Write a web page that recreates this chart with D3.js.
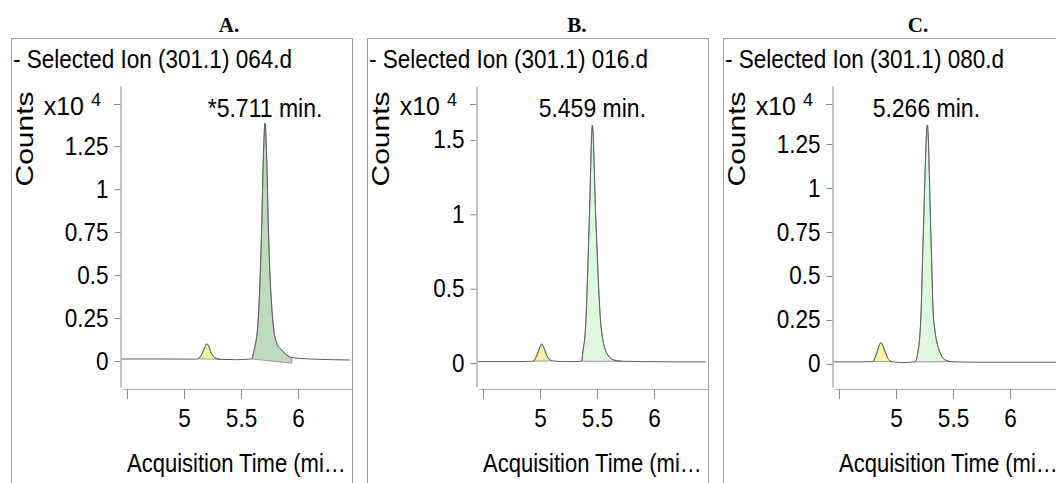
<!DOCTYPE html>
<html>
<head>
<meta charset="utf-8">
<script src="https://cdn.jsdelivr.net/npm/d3@7"></script>
<style>
  body { margin: 0; background: #fff; }
  text { font-family: "Liberation Sans", Arial, sans-serif; }
</style>
</head>
<body>
<div id="chart"></div>
<script>
"use strict";
(function(){
    // ---- data ----
    const panelLetters = ["A.", "B.", "C."];
    const ionLabels = ["- Selected Ion (301.1) 064.d", "- Selected Ion (301.1) 016.d", "- Selected Ion (301.1) 080.d"];
    const peakLabels = ["*5.711 min.", "5.459 min.", "5.266 min."];
    const peakTimes = [5.711, 5.459, 5.266];
    const xTicks = [4.5, 5, 5.5, 6];
    const xDomain = [4.447, 6.465];
    const yTicksA = [0, 0.25, 0.5, 0.75, 1, 1.25];
    const yTicksB = [0, 0.5, 1, 1.5];
    const yTicksC = [0, 0.25, 0.5, 0.75, 1, 1.25];
    const yDomainA = [-0.151, 1.6];
    const yDomainB = [-0.161, 1.863];
    const yDomainC = [-0.131, 1.58];

    // chromatogram traces, [time (min), counts x10^4]
    const traceA = [[4.455,0.012],[4.8,0.012],[5.1,0.011],[5.123,0.013],[5.16,0.045],[5.185,0.085],[5.2,0.1],
        [5.215,0.088],[5.24,0.045],[5.27,0.02],[5.316,0.01],[5.45,0.008],[5.594,0.012],[5.605,0.035],[5.62,0.08],
        [5.649,0.22],[5.682,0.8],[5.696,1.186],[5.711,1.384],[5.725,1.186],[5.739,0.8],[5.781,0.22],[5.813,0.105],
        [5.857,0.064],[5.9,0.035],[5.945,0.02],[6.1,0.012],[6.3,0.008],[6.455,0.006]];
    const traceB = [[4.455,0.01],[4.8,0.01],[4.94,0.012],[4.98,0.067],[5.0,0.11],[5.015,0.128],[5.03,0.11],
        [5.06,0.05],[5.103,0.015],[5.2,0.01],[5.3,0.01],[5.366,0.012],[5.375,0.067],[5.40,0.25],[5.433,0.98],
        [5.459,1.6],[5.489,0.98],[5.535,0.25],[5.585,0.067],[5.65,0.02],[5.717,0.012],[5.9,0.01],[6.2,0.008],[6.455,0.008]];
    const traceC = [[4.455,0.012],[4.7,0.012],[4.796,0.013],[4.83,0.06],[4.855,0.11],[4.868,0.121],[4.88,0.11],
        [4.91,0.06],[4.935,0.025],[4.962,0.013],[5.05,0.008],[5.167,0.012],[5.19,0.06],[5.217,0.25],[5.24,0.756],
        [5.275,1.358],[5.305,0.756],[5.33,0.25],[5.39,0.06],[5.44,0.02],[5.489,0.013],[5.7,0.01],[6.0,0.01],[6.455,0.01]];

    // integrated peaks: [start, end, baseline at start, baseline at end]
    const minorPeaks = [[5.123, 5.316, 0.013, 0.01], [4.94, 5.103, 0.012, 0.015], [4.796, 4.962, 0.013, 0.013]];
    const mainPeaks = [[5.594, 5.945, 0.012, -0.012], [5.366, 5.717, 0.012, 0.012], [5.167, 5.489, 0.012, 0.013]];

    const traces = [traceA, traceB, traceC];
    const yTicks = [yTicksA, yTicksB, yTicksC];
    const yDomains = [yDomainA, yDomainB, yDomainC];

    // ---- layout ----
    const layout = {
        width: 1056, height: 483,
        panelLeft: [11, 367, 723],
        titleX: [229, 577, 918],
        boxTop: 38, boxWidth: 341,
        plotTop: 86, plotBottom: 387,
        xAxisY: 389
    };
    const mainFill = ["#bedbbe", "#e0f8e0", "#e0f8e0"];
    const minorFill = "#f8f2a6";
    const axisColor = "#8a8a8a";

    const svg = d3.select("#chart").append("svg")
        .attr("width", layout.width)
        .attr("height", layout.height);

    function squeeze(sel, k) {
        sel.each(function() {
            const w = this.getComputedTextLength();
            d3.select(this).attr("textLength", w * k).attr("lengthAdjust", "spacingAndGlyphs");
        });
    }

    panelLetters.forEach(function(letter, i) {
        const L = layout.panelLeft[i];
        const g = svg.append("g");

        // panel frame
        g.append("rect")
            .attr("x", L + 0.5).attr("y", layout.boxTop + 0.5)
            .attr("width", layout.boxWidth).attr("height", 500)
            .attr("fill", "none").attr("stroke", "#a0a0a0");

        // letter title
        g.append("text")
            .attr("x", layout.titleX[i]).attr("y", 32)
            .attr("text-anchor", "middle")
            .style("font-family", "'Liberation Serif', 'Times New Roman', serif")
            .style("font-weight", "bold").style("font-size", "21px")
            .text(letter);

        const header = g.append("text")
            .attr("x", L + 2).attr("y", 68)
            .style("font-size", "25px")
            .text(ionLabels[i]);
        squeeze(header, 0.9);

        const x = d3.scaleLinear().domain(xDomain).range([L + 110, L + 340]);
        const y = d3.scaleLinear().domain(yDomains[i]).range([layout.plotBottom, layout.plotTop]);

        // y axis
        const yAxis = g.append("g")
            .attr("transform", "translate(" + (L + 109.5) + ",0)")
            .call(d3.axisLeft(y).tickValues(yTicks[i]).tickSize(6).tickPadding(6).tickSizeOuter(0)
                .tickFormat(function(d) { return String(d); }));
        yAxis.attr("font-size", null).attr("font-family", null);
        yAxis.selectAll("path, line").attr("stroke", axisColor);
        const yLabels = yAxis.selectAll("text").style("font-size", "25px").attr("fill", "#000");
        squeeze(yLabels, 0.9);

        // exponent label
        const expY = 104;
        g.append("line")
            .attr("x1", L + 103).attr("x2", L + 109.5)
            .attr("y1", expY + 0.5).attr("y2", expY + 0.5)
            .attr("stroke", axisColor);
        const exp = g.append("text")
            .attr("x", L + 90).attr("y", expY + 11)
            .attr("text-anchor", "end")
            .style("font-size", "25px");
        exp.append("tspan").text("x10 ");
        exp.append("tspan").attr("dy", -9).style("font-size", "18px").text("4");

        // Counts label
        g.append("text")
            .attr("transform", "translate(" + (L + 22) + ",139) rotate(-90)")
            .attr("text-anchor", "middle")
            .style("font-size", "23px")
            .attr("textLength", 95).attr("lengthAdjust", "spacingAndGlyphs")
            .text("Counts");

        // x axis
        const xAxis = g.append("g")
            .attr("transform", "translate(0," + layout.xAxisY + ")")
            .call(d3.axisBottom(x).tickValues(xTicks).tickSize(10).tickPadding(10).tickSizeOuter(0)
                .tickFormat(function(d) { return d === 4.5 ? "" : String(d); }));
        xAxis.attr("font-size", null).attr("font-family", null);
        xAxis.select("path").attr("d", "M" + (L + 112) + ",0.5H" + (L + 341)).attr("stroke", "#b0b0b0");
        xAxis.selectAll("line").attr("stroke", axisColor);
        const xLabels = xAxis.selectAll("text").style("font-size", "25px").attr("fill", "#000");
        xLabels.filter(function(d) { return d !== 4.5; }).call(squeeze, 0.9);

        const xTitle = g.append("text")
            .attr("x", L + 116).attr("y", 472)
            .style("font-size", "25px")
            .text("Acquisition Time (mi\u2026");
        squeeze(xTitle, 0.88);

        // integrated peak areas
        const trace = traces[i];
        function peakArea(p) {
            const pts = trace.filter(function(d) { return d[0] >= p[0] && d[0] <= p[1]; });
            const base = function(t) { return p[2] + (p[3] - p[2]) * (t - p[0]) / (p[1] - p[0]); };
            return d3.area()
                .x(function(d) { return x(d[0]); })
                .y0(function(d) { return y(base(d[0])); })
                .y1(function(d) { return y(d[1]); })
                .curve(d3.curveMonotoneX)(pts);
        }
        g.append("path")
            .attr("d", peakArea(minorPeaks[i]))
            .attr("fill", minorFill).attr("stroke", "#808080").attr("stroke-width", 0.8);
        g.append("path")
            .attr("d", peakArea(mainPeaks[i]))
            .attr("fill", mainFill[i]).attr("stroke", "#808080").attr("stroke-width", 0.8);

        // trace
        g.append("path")
            .datum(trace)
            .attr("fill", "none")
            .attr("stroke", "#5e5e5e")
            .attr("stroke-width", 1)
            .attr("d", d3.line()
                .x(function(d) { return x(d[0]); })
                .y(function(d) { return y(d[1]); })
                .curve(d3.curveMonotoneX));

        // retention time label
        const rt = g.append("text")
            .attr("x", x(peakTimes[i])).attr("y", 117)
            .attr("text-anchor", "middle")
            .style("font-size", "25px")
            .text(peakLabels[i]);
        squeeze(rt, 0.92);
    });
})();
</script>
</body>
</html>
